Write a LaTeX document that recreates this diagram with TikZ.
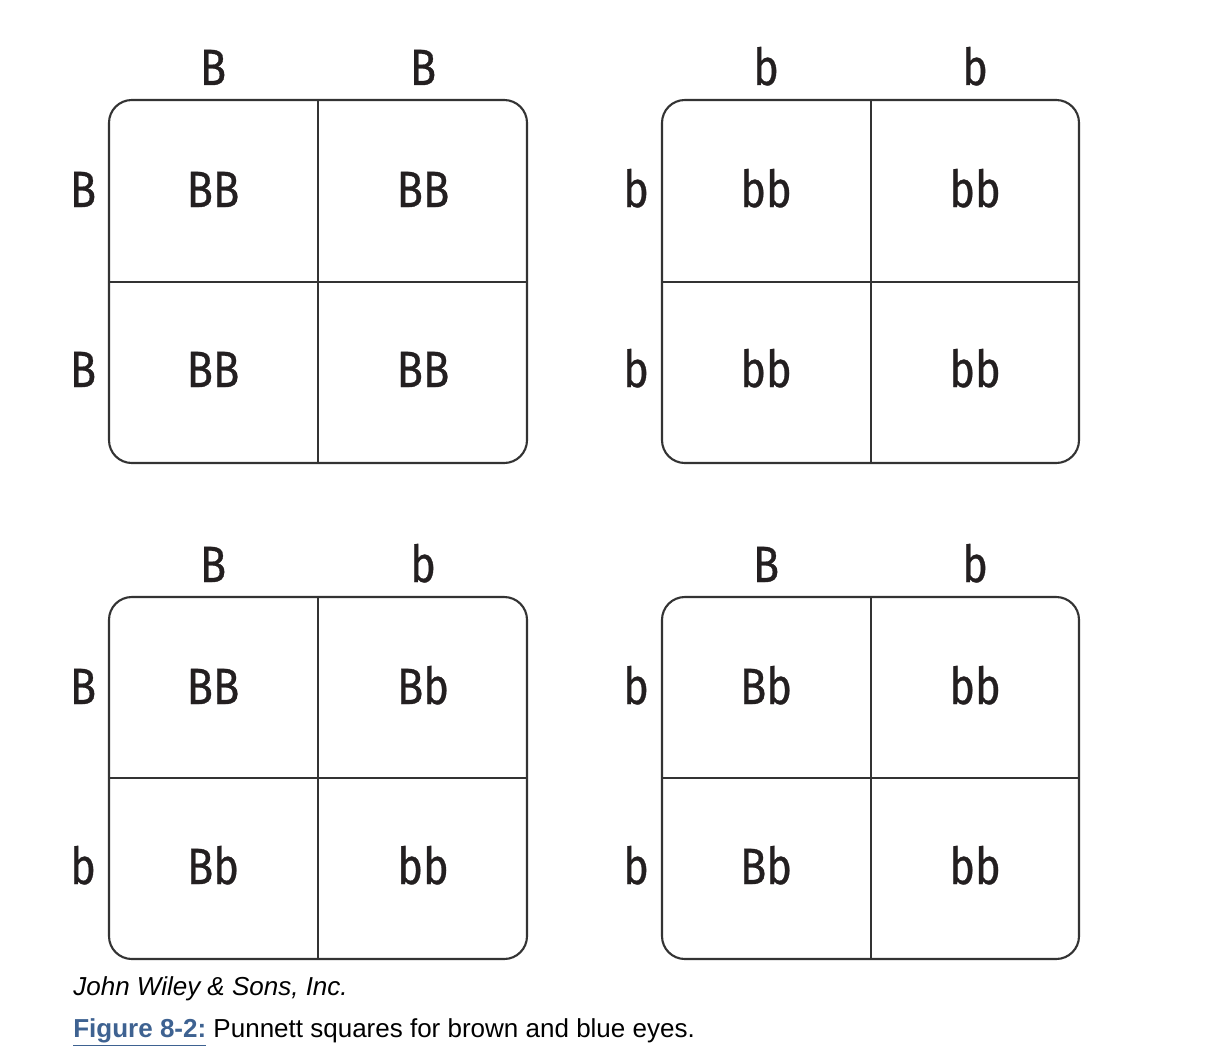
\documentclass[tikz,border=0pt]{standalone}
\usepackage{fontspec}
\setmainfont{Liberation Sans}
\newfontfamily\allelefont[FakeStretch=0.85, FakeBold=0.6]{Fira Sans}
\usetikzlibrary{positioning}
\definecolor{inkgray}{HTML}{231F20}
\definecolor{linegray}{HTML}{333333}
\definecolor{figblue}{RGB}{62,98,145}
\tikzset{
	allele/.style={font=\allelefont\fontsize{29}{29}\selectfont, text=inkgray, anchor=base, inner sep=0pt},
	grid line/.style={draw=linegray, line width=1.2pt},
	caption/.style={font=\fontsize{14.8}{16}\selectfont, anchor=base west, inner sep=0pt}
}

\begin{document}
\begin{tikzpicture}[x=0.02cm, y=-0.02cm]
		%%%%% START %%%%%
		\useasboundingbox (0, 0) rectangle (1227, 1061);
		
		% top left: BB x BB
		\begin{scope}[shift={(109, 100)}]
			\draw[grid line, rounded corners=13] (0, 0) rectangle (418, 363);
			\draw[grid line] (209, 0) -- (209, 363);
			\draw[grid line] (0, 182) -- (418, 182);
			\node[allele] (tl-t1) at (104, -15) {B};
			\node[allele] (tl-t2) at (314, -15) {B};
			\node[allele] (tl-l1) at (-26, 107) {B};
			\node[allele] (tl-l2) at (-26, 287) {B};
			\node[allele] (tl-c11) at (104, 107) {BB};
			\node[allele] (tl-c12) at (314, 107) {BB};
			\node[allele] (tl-c21) at (104, 287) {BB};
			\node[allele] (tl-c22) at (314, 287) {BB};
		\end{scope}
		
		% top right: bb x bb
		\begin{scope}[shift={(662, 100)}]
			\draw[grid line, rounded corners=13] (0, 0) rectangle (417, 363);
			\draw[grid line] (209, 0) -- (209, 363);
			\draw[grid line] (0, 182) -- (417, 182);
			\node[allele] (tr-t1) at (104, -15) {b};
			\node[allele] (tr-t2) at (313, -15) {b};
			\node[allele] (tr-l1) at (-26, 107) {b};
			\node[allele] (tr-l2) at (-26, 287) {b};
			\node[allele] (tr-c11) at (104, 107) {bb};
			\node[allele] (tr-c12) at (313, 107) {bb};
			\node[allele] (tr-c21) at (104, 287) {bb};
			\node[allele] (tr-c22) at (313, 287) {bb};
		\end{scope}
		
		% bottom left: Bb x Bb
		\begin{scope}[shift={(109, 597)}]
			\draw[grid line, rounded corners=13] (0, 0) rectangle (418, 362);
			\draw[grid line] (209, 0) -- (209, 362);
			\draw[grid line] (0, 181) -- (418, 181);
			\node[allele] (bl-t1) at (104, -15) {B};
			\node[allele] (bl-t2) at (314, -15) {b};
			\node[allele] (bl-l1) at (-26, 107) {B};
			\node[allele] (bl-l2) at (-26, 287) {b};
			\node[allele] (bl-c11) at (104, 107) {BB};
			\node[allele] (bl-c12) at (314, 107) {Bb};
			\node[allele] (bl-c21) at (104, 287) {Bb};
			\node[allele] (bl-c22) at (314, 287) {bb};
		\end{scope}
		
		% bottom right: Bb x bb
		\begin{scope}[shift={(662, 597)}]
			\draw[grid line, rounded corners=13] (0, 0) rectangle (417, 362);
			\draw[grid line] (209, 0) -- (209, 362);
			\draw[grid line] (0, 181) -- (417, 181);
			\node[allele] (br-t1) at (104, -15) {B};
			\node[allele] (br-t2) at (313, -15) {b};
			\node[allele] (br-l1) at (-26, 107) {b};
			\node[allele] (br-l2) at (-26, 287) {b};
			\node[allele] (br-c11) at (104, 107) {Bb};
			\node[allele] (br-c12) at (313, 107) {bb};
			\node[allele] (br-c21) at (104, 287) {Bb};
			\node[allele] (br-c22) at (313, 287) {bb};
		\end{scope}
		
		% credit and caption
		\node[caption] (credit) at (73, 995) {\itshape John Wiley \& Sons, Inc.};
		\node[caption] (figcap) at (73, 1037) {{\bfseries\color{figblue}\underline{Figure 8-2:}} Punnett squares for brown and blue eyes.};
		
		%%%%% END %%%%%
	\end{tikzpicture}
\end{document}
